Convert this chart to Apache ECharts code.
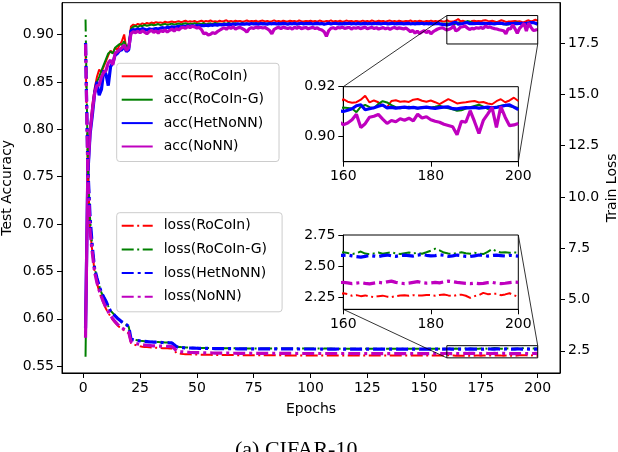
<!DOCTYPE html>
<html lang="en">
<head>
<meta charset="UTF-8">
<title>CIFAR-10</title>
<script src="https://cdn.jsdelivr.net/npm/echarts@6/dist/echarts.min.js"></script>
<style>
    html, body { margin: 0; padding: 0; background: #fff; }
    #main { width: 618px; height: 452px; }
</style>
</head>
<body>
<div id="main"></div>
<script type="text/javascript">
// epochs 1..200
var epochs = [];
for (var e = 1; e <= 200; e++) epochs.push(e);

var accRoCoIn = [
0.600,0.760,0.800,0.826,0.843,0.855,0.863,0.860,0.866,0.872,
0.878,0.883,0.880,0.886,0.884,0.889,0.893,0.900,0.884,0.888,
0.9085,0.9105,0.9095,0.9112,0.9103,0.9118,0.9108,0.9122,0.9114,0.9126,
0.9119,0.9131,0.9124,0.9128,0.9121,0.9135,0.9127,0.9132,0.9138,0.9129,
0.9134,0.9141,0.9130,0.9137,0.9145,0.9133,0.9140,0.9136,0.9143,0.9131,
0.9139,0.9146,0.9135,0.9142,0.9137,0.9148,0.9136,0.9141,0.9134,0.9145,
0.9138,0.9143,0.9150,0.9137,0.9142,0.9135,0.9146,0.9139,0.9144,0.9136,
0.9141,0.9148,0.9137,0.9143,0.9139,0.9145,0.9134,0.9142,0.9147,0.9138,
0.9144,0.9136,0.9141,0.9149,0.9138,0.9143,0.9135,0.9146,0.9140,0.9137,
0.9145,0.9139,0.9143,0.9136,0.9148,0.9141,0.9137,0.9144,0.9139,0.9146,
0.9138,0.9143,0.9135,0.9147,0.9140,0.9136,0.9144,0.9139,0.9149,0.9137,
0.9142,0.9138,0.9145,0.9136,0.9141,0.9147,0.9139,0.9143,0.9135,0.9144,
0.9140,0.9137,0.9146,0.9138,0.9143,0.9136,0.9148,0.9141,0.9137,0.9145,
0.9139,0.9144,0.9136,0.9142,0.9147,0.9138,0.9143,0.9135,0.9146,0.9140,
0.9137,0.9144,0.9139,0.9148,0.9136,0.9142,0.9138,0.9145,0.9140,0.9136,
0.9143,0.9139,0.9147,0.9137,0.9142,0.9138,0.9146,0.9140,0.9136,0.9150,
0.9140,0.9136,0.9138,0.9148,0.9164,0.9137,0.9145,0.9138,0.9125,0.9118,
0.9143,0.9146,0.9140,0.9142,0.9139,0.9148,0.9151,0.9144,0.9140,0.9145,
0.9138,0.9130,0.9140,0.9150,0.9142,0.9133,0.9136,0.9138,0.9141,0.9143,
0.9137,0.9139,0.9133,0.9130,0.9142,0.9150,0.9138,0.9145,0.9156,0.9143
];
var accRoCoInG = [
0.560,0.757,0.800,0.822,0.840,0.850,0.855,0.862,0.868,0.874,
0.880,0.882,0.880,0.886,0.888,0.890,0.889,0.893,0.887,0.889,
0.9060,0.9082,0.9090,0.9078,0.9095,0.9088,0.9101,0.9093,0.9098,0.9105,
0.9097,0.9103,0.9110,0.9099,0.9106,0.9112,0.9102,0.9108,0.9115,0.9104,
0.9110,0.9117,0.9106,0.9113,0.9119,0.9108,0.9115,0.9111,0.9120,0.9109,
0.9116,0.9112,0.9121,0.9107,0.9114,0.9118,0.9110,0.9122,0.9113,0.9117,
0.9109,0.9119,0.9114,0.9123,0.9111,0.9116,0.9120,0.9108,0.9115,0.9121,
0.9112,0.9118,0.9106,0.9114,0.9120,0.9110,0.9117,0.9113,0.9122,0.9109,
0.9116,0.9119,0.9111,0.9123,0.9114,0.9108,0.9118,0.9115,0.9121,0.9110,
0.9117,0.9112,0.9120,0.9106,0.9115,0.9119,0.9111,0.9124,0.9113,0.9118,
0.9109,0.9116,0.9121,0.9112,0.9118,0.9107,0.9114,0.9120,0.9111,0.9117,
0.9122,0.9110,0.9115,0.9119,0.9108,0.9116,0.9121,0.9113,0.9118,0.9110,
0.9115,0.9120,0.9109,0.9117,0.9112,0.9123,0.9114,0.9108,0.9119,0.9115,
0.9111,0.9118,0.9122,0.9110,0.9116,0.9113,0.9120,0.9107,0.9115,0.9119,
0.9112,0.9117,0.9121,0.9109,0.9114,0.9118,0.9111,0.9123,0.9116,0.9110,
0.9115,0.9119,0.9108,0.9117,0.9113,0.9120,0.9112,0.9116,0.9114,0.9117,
0.9115,0.9113,0.9098,0.9120,0.9127,0.9118,0.9114,0.9131,0.9142,0.9137,
0.9126,0.9118,0.9114,0.9117,0.9120,0.9116,0.9113,0.9118,0.9115,0.9117,
0.9120,0.9124,0.9118,0.9114,0.9110,0.9104,0.9106,0.9113,0.9118,0.9123,
0.9128,0.9120,0.9111,0.9116,0.9119,0.9124,0.9127,0.9122,0.9118,0.9115
];
var accHetNoNN = [
0.590,0.752,0.795,0.815,0.838,0.850,0.836,0.842,0.862,0.858,
0.846,0.866,0.870,0.878,0.880,0.883,0.884,0.888,0.882,0.884,
0.9040,0.9052,0.9048,0.9058,0.9050,0.9062,0.9055,0.9047,0.9060,0.9053,
0.9058,0.9064,0.9056,0.9068,0.9072,0.9065,0.9078,0.9070,0.9082,0.9075,
0.9080,0.9086,0.9079,0.9088,0.9084,0.9091,0.9085,0.9093,0.9088,0.9095,
0.9090,0.9097,0.9092,0.9099,0.9094,0.9101,0.9097,0.9104,0.9099,0.9106,
0.9102,0.9108,0.9103,0.9110,0.9105,0.9111,0.9107,0.9113,0.9108,0.9112,
0.9109,0.9114,0.9110,0.9116,0.9111,0.9115,0.9109,0.9117,0.9112,0.9114,
0.9110,0.9116,0.9113,0.9118,0.9111,0.9115,0.9112,0.9117,0.9114,0.9110,
0.9116,0.9113,0.9118,0.9111,0.9115,0.9119,0.9112,0.9116,0.9114,0.9117,
0.9111,0.9115,0.9118,0.9113,0.9116,0.9110,0.9114,0.9119,0.9112,0.9116,
0.9118,0.9113,0.9115,0.9111,0.9117,0.9114,0.9119,0.9112,0.9116,0.9113,
0.9117,0.9111,0.9115,0.9118,0.9113,0.9116,0.9112,0.9119,0.9114,0.9117,
0.9113,0.9116,0.9119,0.9112,0.9115,0.9118,0.9111,0.9116,0.9114,0.9117,
0.9112,0.9115,0.9118,0.9113,0.9116,0.9111,0.9117,0.9114,0.9119,0.9112,
0.9116,0.9113,0.9117,0.9111,0.9115,0.9118,0.9112,0.9107,0.9104,0.9101,
0.9106,0.9112,0.9124,0.9128,0.9108,0.9112,0.9116,0.9122,0.9127,0.9115,
0.9117,0.9114,0.9116,0.9118,0.9115,0.9117,0.9114,0.9116,0.9118,0.9115,
0.9113,0.9116,0.9118,0.9119,0.9112,0.9111,0.9114,0.9116,0.9115,0.9117,
0.9114,0.9116,0.9118,0.9115,0.9117,0.9121,0.9125,0.9127,0.9118,0.9108
];
var accNoNN = [
0.580,0.757,0.798,0.820,0.838,0.846,0.847,0.855,0.860,0.862,
0.870,0.873,0.868,0.880,0.882,0.884,0.886,0.889,0.883,0.886,
0.9010,0.9028,0.9020,0.9035,0.9018,0.9040,0.9025,0.9008,0.9030,0.9045,
0.9022,0.9038,0.9015,0.9042,0.9030,0.9050,0.9026,0.9044,0.9058,0.9036,
0.9062,0.9048,0.9070,0.9077,0.9065,0.9085,0.9072,0.9088,0.9080,0.9068,
0.9075,0.9052,0.9007,0.9015,0.8995,0.9003,0.9020,0.9010,0.9030,0.9045,
0.9060,0.9072,0.9055,0.9078,0.9066,0.9080,0.9058,0.9070,0.9075,0.9062,
0.9048,0.9024,0.9060,0.9072,0.9065,0.9078,0.9070,0.9076,0.9068,0.9074,
0.9060,0.9042,0.9007,0.9055,0.9068,0.9075,0.9062,0.9078,0.9070,0.9064,
0.9072,0.9058,0.9076,0.9066,0.9080,0.9062,0.9070,0.9074,0.9060,0.9068,
0.9075,0.9064,0.9070,0.9055,0.9048,0.9030,0.8980,0.9040,0.9066,0.9072,
0.9060,0.9074,0.9068,0.9078,0.9064,0.9070,0.9076,0.9058,0.9072,0.9066,
0.9074,0.9062,0.9070,0.9078,0.9060,0.9068,0.9075,0.9064,0.9071,0.9058,
0.9066,0.9073,0.9060,0.9070,0.9055,0.9068,0.9074,0.9062,0.9070,0.9065,
0.9058,0.9068,0.9050,0.9030,0.9042,0.9015,0.9035,0.9010,0.9028,0.9040,
0.9020,0.9038,0.9007,0.9030,0.9045,0.9058,0.9066,0.9072,0.9060,0.9048,
0.9055,0.9068,0.9090,0.9037,0.9052,0.9078,0.9082,0.9089,0.9070,0.9053,
0.9065,0.9060,0.9072,0.9066,0.9074,0.9063,0.9090,0.9075,0.9080,0.9068,
0.9062,0.9058,0.9050,0.9045,0.9040,0.9008,0.9062,0.9058,0.9104,0.9060,
0.9013,0.9065,0.9090,0.9117,0.9037,0.9120,0.9078,0.9044,0.9047,0.9053
];

var lossRoCoIn = [
17.20,11.30,8.40,7.30,6.35,5.80,5.40,5.07,4.80,4.55,
4.35,4.17,4.01,3.88,3.75,3.65,3.57,3.50,3.42,3.35,
2.88,2.82,2.78,2.75,2.72,2.70,2.69,2.68,2.67,2.66,
2.655,2.650,2.640,2.635,2.630,2.625,2.620,2.615,2.610,2.530,
2.400,2.370,2.355,2.345,2.338,2.332,2.327,2.322,2.318,2.315,
2.313,2.311,2.308,2.307,2.305,2.303,2.302,2.300,2.299,2.297,
2.296,2.295,2.294,2.293,2.292,2.291,2.290,2.289,2.289,2.288,
2.287,2.286,2.286,2.285,2.284,2.284,2.283,2.283,2.282,2.281,
2.281,2.280,2.280,2.279,2.279,2.278,2.278,2.278,2.277,2.277,
2.277,2.276,2.276,2.276,2.275,2.275,2.275,2.275,2.274,2.274,
2.274,2.274,2.273,2.273,2.273,2.273,2.273,2.272,2.272,2.272,
2.272,2.272,2.272,2.271,2.271,2.271,2.271,2.271,2.271,2.271,
2.270,2.271,2.270,2.270,2.271,2.270,2.270,2.269,2.270,2.270,
2.270,2.269,2.270,2.270,2.269,2.270,2.269,2.270,2.269,2.270,
2.269,2.270,2.269,2.269,2.270,2.269,2.269,2.270,2.269,2.269,
2.270,2.269,2.269,2.270,2.269,2.269,2.270,2.269,2.272,2.285,
2.278,2.265,2.270,2.262,2.268,2.260,2.255,2.262,2.266,2.258,
2.255,2.262,2.268,2.270,2.265,2.270,2.266,2.268,2.272,2.270,
2.266,2.272,2.275,2.268,2.262,2.270,2.274,2.265,2.248,2.262,
2.270,2.288,2.278,2.280,2.282,2.270,2.276,2.285,2.270,2.255
];
var lossRoCoInG = [
18.65,11.60,8.95,7.50,6.55,6.05,5.68,5.33,5.12,4.92,
4.68,4.45,4.34,4.22,4.10,4.00,3.91,3.83,3.76,3.68,
3.09,3.05,3.03,3.01,2.99,2.98,2.97,2.96,2.95,2.94,
2.935,2.930,2.925,2.920,2.915,2.910,2.905,2.900,2.895,2.820,
2.720,2.690,2.680,2.672,2.665,2.660,2.655,2.651,2.648,2.645,
2.642,2.640,2.638,2.636,2.634,2.632,2.631,2.629,2.628,2.626,
2.625,2.624,2.623,2.622,2.621,2.620,2.619,2.618,2.618,2.617,
2.616,2.616,2.615,2.615,2.614,2.614,2.613,2.613,2.612,2.612,
2.612,2.611,2.611,2.611,2.610,2.610,2.610,2.610,2.609,2.609,
2.609,2.609,2.608,2.609,2.608,2.608,2.608,2.607,2.608,2.607,
2.607,2.607,2.608,2.607,2.606,2.607,2.607,2.606,2.607,2.606,
2.606,2.607,2.606,2.606,2.606,2.605,2.606,2.606,2.605,2.606,
2.605,2.605,2.606,2.605,2.605,2.604,2.605,2.605,2.604,2.605,
2.604,2.605,2.604,2.604,2.605,2.604,2.604,2.603,2.604,2.604,
2.603,2.604,2.603,2.604,2.603,2.603,2.604,2.603,2.603,2.602,
2.603,2.603,2.602,2.603,2.602,2.603,2.602,2.602,2.606,2.612,
2.606,2.598,2.604,2.618,2.602,2.596,2.603,2.610,2.600,2.606,
2.612,2.604,2.598,2.605,2.610,2.603,2.607,2.600,2.612,2.625,
2.640,2.628,2.610,2.603,2.598,2.606,2.612,2.604,2.600,2.608,
2.602,2.598,2.615,2.638,2.620,2.610,2.612,2.608,2.611,2.610
];
var lossHetNoNN = [
17.50,11.50,9.00,7.55,6.50,6.05,5.66,5.33,5.12,4.92,
4.66,4.43,4.32,4.20,4.09,4.00,3.91,3.83,3.77,3.68,
3.07,3.04,3.02,3.00,2.98,2.97,2.96,2.95,2.94,2.93,
2.925,2.920,2.915,2.910,2.905,2.900,2.895,2.890,2.885,2.800,
2.700,2.670,2.660,2.652,2.646,2.641,2.636,2.632,2.629,2.626,
2.623,2.621,2.619,2.617,2.615,2.613,2.612,2.610,2.609,2.607,
2.606,2.605,2.604,2.603,2.602,2.601,2.600,2.599,2.599,2.598,
2.597,2.597,2.596,2.596,2.595,2.595,2.594,2.594,2.593,2.593,
2.593,2.592,2.592,2.592,2.591,2.591,2.591,2.591,2.590,2.590,
2.590,2.590,2.589,2.590,2.589,2.589,2.589,2.588,2.589,2.588,
2.588,2.588,2.589,2.588,2.587,2.588,2.588,2.587,2.588,2.587,
2.587,2.588,2.587,2.587,2.587,2.586,2.587,2.587,2.586,2.587,
2.586,2.586,2.587,2.586,2.586,2.585,2.586,2.586,2.585,2.586,
2.585,2.586,2.585,2.585,2.586,2.585,2.585,2.584,2.585,2.585,
2.584,2.585,2.584,2.585,2.584,2.584,2.585,2.584,2.584,2.583,
2.584,2.584,2.583,2.584,2.583,2.584,2.583,2.583,2.586,2.588,
2.590,2.584,2.578,2.574,2.580,2.586,2.582,2.578,2.585,2.590,
2.584,2.580,2.586,2.590,2.586,2.582,2.590,2.594,2.588,2.584,
2.586,2.592,2.588,2.580,2.584,2.590,2.586,2.580,2.578,2.584,
2.590,2.588,2.582,2.586,2.590,2.586,2.582,2.588,2.585,2.582
];
var lossNoNN = [
17.45,11.20,8.30,7.25,6.33,5.83,5.45,5.13,4.85,4.61,
4.40,4.22,4.06,3.92,3.80,3.70,3.62,3.55,3.48,3.40,
2.95,2.90,2.86,2.83,2.81,2.79,2.78,2.77,2.76,2.75,
2.745,2.740,2.735,2.730,2.725,2.720,2.715,2.710,2.705,2.620,
2.500,2.470,2.455,2.445,2.437,2.430,2.424,2.419,2.414,2.410,
2.407,2.404,2.401,2.399,2.397,2.395,2.393,2.391,2.390,2.388,
2.387,2.386,2.385,2.384,2.383,2.382,2.381,2.380,2.380,2.379,
2.378,2.378,2.377,2.377,2.376,2.376,2.375,2.375,2.375,2.374,
2.374,2.374,2.373,2.373,2.373,2.372,2.372,2.372,2.372,2.371,
2.371,2.371,2.371,2.370,2.371,2.370,2.370,2.370,2.370,2.369,
2.370,2.369,2.369,2.370,2.369,2.369,2.369,2.368,2.369,2.369,
2.368,2.369,2.368,2.368,2.369,2.368,2.368,2.368,2.367,2.368,
2.368,2.367,2.368,2.368,2.367,2.368,2.367,2.367,2.368,2.367,
2.367,2.367,2.368,2.367,2.367,2.366,2.367,2.367,2.366,2.367,
2.367,2.366,2.367,2.366,2.366,2.367,2.366,2.366,2.367,2.366,
2.366,2.366,2.367,2.366,2.366,2.366,2.367,2.366,2.370,2.372,
2.368,2.362,2.366,2.370,2.364,2.360,2.366,2.372,2.368,2.376,
2.382,2.372,2.366,2.362,2.366,2.372,2.378,2.370,2.366,2.368,
2.372,2.368,2.376,2.382,2.378,2.372,2.368,2.364,2.362,2.366,
2.362,2.364,2.370,2.372,2.366,2.362,2.365,2.370,2.374,2.372
];

var methods = ['RoCoIn', 'RoCoIn-G', 'HetNoNN', 'NoNN'];
var xTicks = [0, 25, 50, 75, 100, 125, 150, 175, 200];
var accTicks = [0.55, 0.60, 0.65, 0.70, 0.75, 0.80, 0.85, 0.90];
var lossTicks = [2.5, 5.0, 7.5, 10.0, 12.5, 15.0, 17.5];
var zoomEpochs = [160, 200];
var zoomAcc = [0.89, 0.92];
var zoomLoss = [2.157, 2.75];
var zoomXTicks = [160, 180, 200];
var zoomAccTicks = [0.90, 0.92];
var zoomLossTicks = [2.25, 2.50, 2.75];

var FONT = 'DejaVu Sans';
var colors = ['#ff0000', '#008000', '#0000ff', '#bf00bf'];
var widths = [2, 2, 3.2, 3.2];
var dashes = [[12, 3.5, 2, 3.5], [12, 3.5, 2, 3.5], [12, 4, 3, 4], [12, 4, 3, 4]];
var accData = [accRoCoIn, accRoCoInG, accHetNoNN, accNoNN];
var lossData = [lossRoCoIn, lossRoCoInG, lossHetNoNN, lossNoNN];

function pairs(arr) {
    return epochs.map(function (ep, i) { return [ep, arr[i]]; });
}

function makeLine(name, arr, k, type, xi, yi, z) {
    return {
        name: name, type: 'line', data: pairs(arr),
        xAxisIndex: xi, yAxisIndex: yi, z: z,
        symbol: 'none', showSymbol: false, clip: true,
        lineStyle: { color: colors[k], width: widths[k], type: type },
        itemStyle: { color: colors[k] },
        emphasis: { disabled: true }
    };
}

function makeAxis(grid, min, max, ticks, fmt, extra) {
    var a = {
        type: 'value', gridIndex: grid, min: min, max: max,
        axisLine: { show: true, onZero: false, lineStyle: { color: '#000', width: 1 } },
        axisTick: { show: true, inside: false, length: 5, customValues: ticks,
            lineStyle: { color: '#000', width: 1 } },
        axisLabel: { show: true, customValues: ticks, formatter: fmt, margin: 8,
            color: '#000', fontSize: 14, fontFamily: FONT },
        splitLine: { show: false },
        nameMoveOverlap: false
    };
    for (var key in extra) a[key] = extra[key];
    return a;
}

var nameStyle = { color: '#000', fontSize: 14, fontFamily: FONT };
var legendBase = {
    orient: 'vertical', left: 116.7, itemWidth: 31, itemHeight: 14, itemGap: 9.4,
    padding: [6, 15, 8, 4], backgroundColor: 'rgba(255,255,255,0.8)',
    borderColor: '#cccccc', borderWidth: 1, borderRadius: 3, selectedMode: false,
    itemStyle: { opacity: 0 },
    textStyle: { color: '#000', fontSize: 14, fontFamily: FONT, padding: [0, 0, 0, 6] }
};
var gridBase = { show: true, backgroundColor: '#fff', borderColor: '#000', borderWidth: 1,
    containLabel: false, outerBoundsMode: 'none' };

var series = [];
methods.forEach(function (m, k) { series.push(makeLine('acc(' + m + ')', accData[k], k, 'solid', 0, 0, 2)); });
methods.forEach(function (m, k) { series.push(makeLine('loss(' + m + ')', lossData[k], k, dashes[k], 0, 1, 2)); });
methods.forEach(function (m, k) { series.push(makeLine('acc(' + m + ')', accData[k], k, 'solid', 1, 2, 12)); });
methods.forEach(function (m, k) { series.push(makeLine('loss(' + m + ')', lossData[k], k, dashes[k], 2, 3, 12)); });

var myChart = echarts.init(document.getElementById('main'), null, { renderer: 'canvas' });

var option = {
    animation: false,
    backgroundColor: '#fff',
    title: {
        text: '(a) CIFAR-10', left: 235, top: 439, padding: 0,
        textStyle: { fontFamily: 'Liberation Serif', fontSize: 22, fontWeight: 'normal', color: '#000' }
    },
    grid: [
        Object.assign({ left: 62, top: 2.67, width: 498, height: 370.3 }, gridBase),
        Object.assign({ left: 343.3, top: 86.7, width: 175, height: 75, z: 10 }, gridBase),
        Object.assign({ left: 343.3, top: 235, width: 175, height: 74.3, z: 10 }, gridBase)
    ],
    xAxis: [
        makeAxis(0, -9.36, 209.8, xTicks, function (v) { return String(v); },
            { name: 'Epochs', nameLocation: 'middle', nameGap: 29, nameTextStyle: nameStyle }),
        makeAxis(1, zoomEpochs[0], zoomEpochs[1], zoomXTicks, function (v) { return String(v); }, { z: 12 }),
        makeAxis(2, zoomEpochs[0], zoomEpochs[1], zoomXTicks, function (v) { return String(v); }, { z: 12 })
    ],
    yAxis: [
        makeAxis(0, 0.5428, 0.9336, accTicks, function (v) { return v.toFixed(2); },
            { position: 'left', name: 'Test Accuracy', nameLocation: 'middle', nameGap: 48,
              nameRotate: 90, nameTextStyle: nameStyle }),
        makeAxis(0, 1.42, 19.47, lossTicks, function (v) { return v.toFixed(1); },
            { position: 'right', name: 'Train Loss', nameLocation: 'middle', nameGap: 45,
              nameRotate: 90, nameTextStyle: nameStyle }),
        makeAxis(1, zoomAcc[0], zoomAcc[1], zoomAccTicks, function (v) { return v.toFixed(2); },
            { position: 'left', z: 12 }),
        makeAxis(2, zoomLoss[0], zoomLoss[1], zoomLossTicks, function (v) { return v.toFixed(2); },
            { position: 'left', z: 12 })
    ],
    legend: [
        Object.assign({}, legendBase, { top: 63.3, data: methods.map(function (m) { return 'acc(' + m + ')'; }) }),
        Object.assign({}, legendBase, { top: 212.7, itemGap: 9.7, data: methods.map(function (m) { return 'loss(' + m + ')'; }) })
    ],
    series: series
};
myChart.setOption(option);

// zoom boxes on the main axes and the lines joining them to the insets
function px(xi, yi, pt) {
    return myChart.convertToPixel({ xAxisIndex: xi, yAxisIndex: yi }, pt);
}
var accBoxA = px(0, 0, [zoomEpochs[0], zoomAcc[1]]);
var accBoxB = px(0, 0, [zoomEpochs[1], zoomAcc[0]]);
var accInsA = px(1, 2, [zoomEpochs[0], zoomAcc[1]]);
var accInsB = px(1, 2, [zoomEpochs[1], zoomAcc[0]]);
var lossBoxA = px(0, 1, [zoomEpochs[0], zoomLoss[1]]);
var lossBoxB = px(0, 1, [zoomEpochs[1], zoomLoss[0]]);
var lossInsA = px(2, 3, [zoomEpochs[0], zoomLoss[1]]);
var lossInsB = px(2, 3, [zoomEpochs[1], zoomLoss[0]]);

var edge = { fill: 'none', stroke: '#000', lineWidth: 1 };
function seg(p, q) {
    return { type: 'line', z: 5, silent: true, shape: { x1: p[0], y1: p[1], x2: q[0], y2: q[1] },
        style: { stroke: '#000', lineWidth: 0.8 } };
}
function box(a, b) {
    return { type: 'rect', z: 5, silent: true,
        shape: { x: a[0], y: a[1], width: b[0] - a[0], height: b[1] - a[1] }, style: edge };
}
myChart.setOption({
    graphic: [
        box(accBoxA, accBoxB),
        box(lossBoxA, lossBoxB),
        seg(accBoxA, accInsA),
        seg(accBoxB, accInsB),
        seg([lossInsA[0], lossInsB[1]], [lossBoxA[0], lossBoxB[1]]),
        seg([lossInsB[0], lossInsA[1]], [lossBoxB[0], lossBoxA[1]])
    ]
});
</script>
</body>
</html>
